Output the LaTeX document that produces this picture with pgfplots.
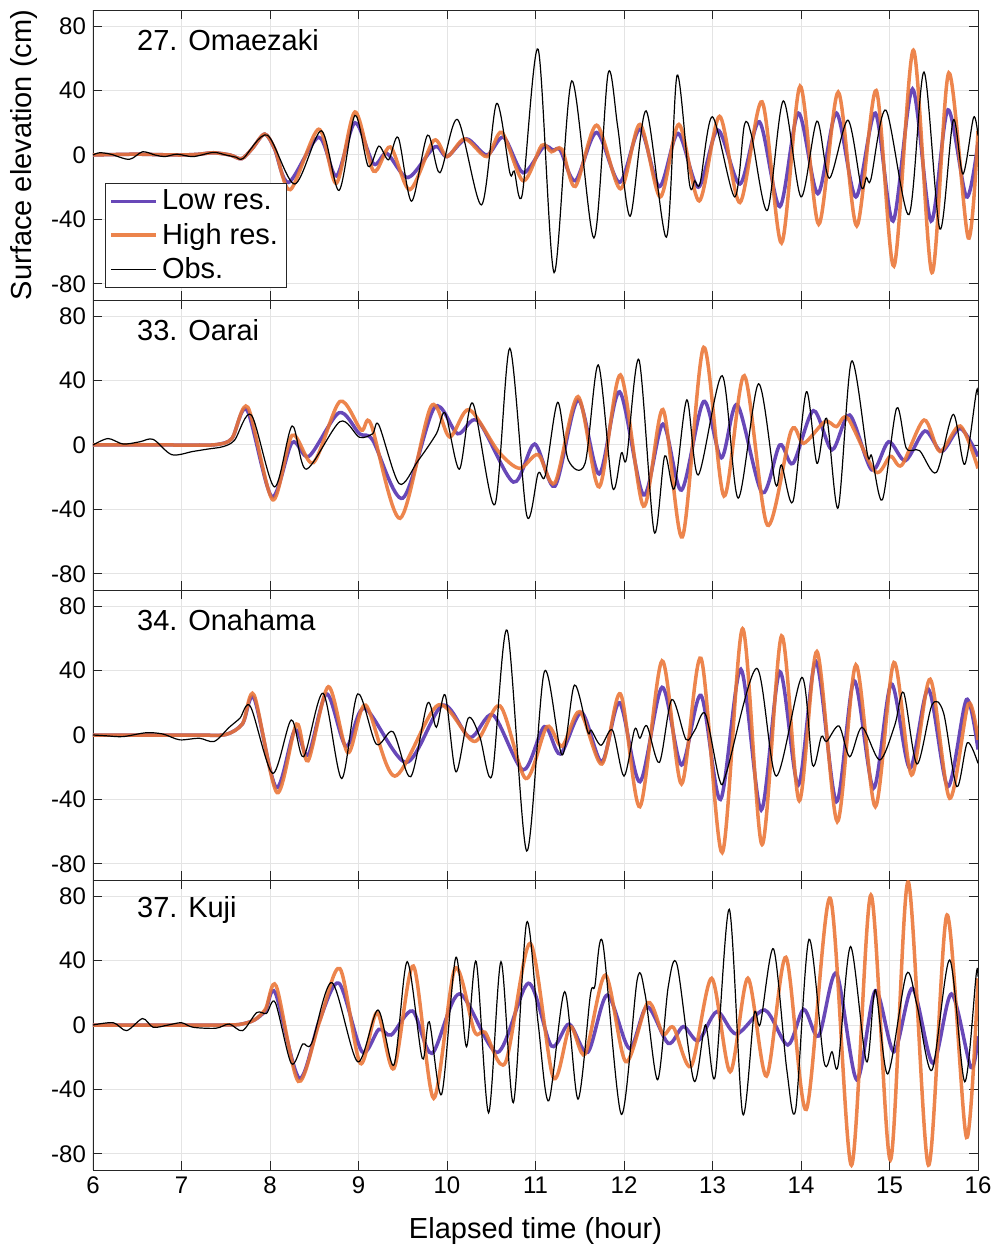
\documentclass[border=0pt]{standalone}
\usepackage{fontspec}
\setmainfont{Liberation Sans}
\usepackage{pgfplots}
\pgfplotsset{compat=1.18}
\definecolor{lowc}{RGB}{104,72,184}
\definecolor{highc}{RGB}{234,116,52}
\definecolor{axc}{RGB}{38,38,38}
\definecolor{gridc}{RGB}{228,228,228}
\pgfplotsset{
  panel/.style={
    scale only axis, width=442.5pt, height=145pt,
    xmin=6, xmax=16, ymin=-90, ymax=90,
    xtick={6,7,8,9,10,11,12,13,14,15,16},
    ytick={-80,-40,0,40,80},
    yticklabels={{-80},{-40},{0},{40},{80}},
    grid=major,
    major grid style={gridc, line width=0.5pt},
    axis line style={axc, line width=0.45pt},
    tick style={axc, line width=0.45pt},
    tick align=inside,
    major tick length=4.5pt,
    xtick pos=both, ytick pos=both,
    ticklabel style={font=\fontsize{12}{14}\selectfont, text=black},
    /pgf/number format/assume math mode=true,
    anchor=north west,
  },
  lowp/.style={lowc, line width=1.75pt, smooth, no marks},
  highp/.style={highc, line width=1.75pt, smooth, no marks, opacity=0.88},
  obsp/.style={black, line width=0.6pt, smooth, no marks},
}
\newcommand{\paneltitle}[1]{\node[anchor=west, font=\fontsize{14.5}{17}\selectfont] at (axis description cs:0.042,0.895) {#1};}
\begin{document}
\begin{tikzpicture}
\useasboundingbox (0,0) rectangle (498pt,-624pt);
% ---------------- Panel 1 ----------------
\begin{axis}[panel, at={(46.5pt,-5pt)}, xticklabels={},
  ylabel={Surface elevation (cm)},
  ylabel style={font=\fontsize{14.5}{17}\selectfont, at={(axis description cs:-0.078,0.5)}, anchor=center, rotate=0},
  legend style={at={(axis description cs:0.0136,0.041)}, anchor=south west, draw=axc, fill=white, line width=0.5pt,
    font=\fontsize{14.5}{17}\selectfont, inner xsep=2pt, inner ysep=1pt, row sep=1.2pt, cells={anchor=west}},
  legend image code/.code={\draw[#1] (0pt,0pt) -- (22.5pt,0pt);},
]
\addplot[lowp] coordinates {(6,0) (6.25,0.3) (6.5,0.5) (6.75,0.2) (7,0) (7.2,0.5) (7.36,1.4) (7.55,0) (7.68,-2.3) (7.8,4) (7.94,13) (8.05,4) (8.21,-17) (8.55,11) (8.75,-13) (8.96,20) (9.17,-5.5) (9.32,1) (9.56,-14) (9.86,5) (10.0,-1) (10.22,10) (10.45,0) (10.64,11) (10.86,-11) (11.09,5) (11.2,3) (11.28,3) (11.45,-16) (11.69,14) (11.95,-17) (12.18,16) (12.40,-19.6) (12.61,13.4) (12.84,-20) (13.06,15.5) (13.31,-18) (13.53,20.6) (13.76,-32) (13.97,26) (14.19,-24) (14.40,26) (14.62,-26) (14.84,26) (15.04,-41) (15.26,41) (15.47,-41) (15.66,28) (15.87,-26) (16.0,8)};
\addlegendentry{Low res.}
\addplot[highp] coordinates {(6,0) (6.25,0.3) (6.5,0.5) (6.75,0.2) (7,0) (7.2,0.5) (7.36,1.4) (7.55,0) (7.68,-2.3) (7.8,4) (7.94,13) (8.06,3) (8.23,-21.5) (8.55,16) (8.75,-17.5) (8.96,26.7) (9.17,-10) (9.36,5) (9.58,-21.5) (9.85,9) (10.0,-1) (10.2,10) (10.45,-1) (10.62,14) (10.86,-16) (11.07,6) (11.18,2) (11.3,3.5) (11.45,-19.5) (11.69,18.5) (11.96,-21) (12.18,19) (12.41,-26) (12.62,19) (12.85,-28.5) (13.08,24) (13.31,-29.5) (13.56,33) (13.78,-54.6) (13.99,42.7) (14.20,-43) (14.42,39) (14.63,-44) (14.85,40) (15.05,-69) (15.27,65) (15.48,-73) (15.67,51) (15.89,-51.5) (16.0,15)};
\addlegendentry{High res.}
\addplot[obsp] coordinates {(6,0) (6.075,1.4) (6.2,0.5) (6.41,-2.7) (6.56,2) (6.7,0) (6.81,-1) (6.95,0.5) (7.13,-1) (7.36,1.6) (7.5,0) (7.62,-1.4) (7.7,-2) (7.97,12.3) (8.28,-18) (8.58,15) (8.78,-22) (8.96,24.6) (9.11,-7) (9.23,5.5) (9.34,-3) (9.45,10.7) (9.6,-28.7) (9.78,12.3) (9.92,-11) (10.12,22) (10.39,-31) (10.56,32) (10.71,-11) (10.76,-10) (10.85,-24.6) (11.03,65.6) (11.21,-73) (11.41,46) (11.66,-51.5) (11.82,50.5) (11.93,17) (12.07,-38) (12.25,27.4) (12.48,-51) (12.6,49.5) (12.74,-18) (12.8,-16) (12.86,-17.5) (13.0,23.7) (13.25,-26) (13.36,18.5) (13.44,12.4) (13.62,-34.4) (13.80,33.6) (14.0,-26) (14.18,21) (14.32,-14.4) (14.53,21.6) (14.68,-19.6) (14.74,-14) (14.79,-15) (14.96,27.8) (15.22,-37) (15.39,51.5) (15.57,-46) (15.72,21.6) (15.83,-11.8) (15.95,23.3) (16.0,12)};
\addlegendentry{Obs.}
\paneltitle{27. Omaezaki}
\end{axis}
% ---------------- Panel 2 ----------------
\begin{axis}[panel, at={(46.5pt,-150pt)}, xticklabels={}]
\addplot[lowp] coordinates {(6,0) (6.3,0) (6.6,0) (6.9,0) (7.2,0) (7.4,0.3) (7.57,4) (7.74,21.7) (8.02,-32) (8.25,1.5) (8.44,-7) (8.78,20) (9.01,7) (9.16,3) (9.50,-33) (9.86,23.4) (10.12,7) (10.35,15) (10.75,-23) (10.99,0.6) (11.22,-25.5) (11.48,28) (11.72,-18) (11.95,33) (12.22,-31) (12.44,13) (12.65,-28) (12.90,27) (13.1,-8) (13.28,25) (13.56,-29.6) (13.76,0) (13.91,-11.4) (14.14,21.3) (14.35,-3) (14.55,18.6) (14.80,-15.5) (14.99,2) (15.18,-9.7) (15.40,8.7) (15.59,-4) (15.80,10.3) (16.0,-7)};
\addplot[highp] coordinates {(6,0) (6.3,0) (6.6,0) (6.9,0) (7.2,0) (7.4,0.3) (7.57,4) (7.75,23.4) (8.03,-34) (8.25,6) (8.49,-11) (8.79,27) (9.03,9.3) (9.14,13) (9.47,-45.5) (9.82,24) (10.03,5) (10.25,22) (10.58,-4) (10.82,-14.5) (11.03,-6) (11.22,-23.4) (11.48,30) (11.72,-26) (11.96,43.5) (12.22,-38) (12.44,22) (12.66,-57) (12.9,60.6) (13.13,-31.7) (13.36,43) (13.62,-49.7) (13.89,9) (14.03,1) (14.27,14.5) (14.4,11.4) (14.53,16.5) (14.84,-16.6) (15.01,-7) (15.14,-12.4) (15.39,15.5) (15.57,-4) (15.80,11.8) (16.0,-14.5)};
\addplot[obsp] coordinates {(6,0) (6.17,4) (6.34,0.6) (6.53,2) (6.68,3.5) (6.89,-6) (7.13,-4) (7.3,-2.5) (7.47,-1) (7.6,3) (7.79,18.6) (8.05,-26) (8.25,11.8) (8.41,-15) (8.79,14.5) (9.01,4.8) (9.16,7) (9.23,12.4) (9.46,-24) (9.67,-10) (9.88,7) (9.98,19.7) (10.14,-15) (10.29,26) (10.54,-37) (10.71,60) (10.9,-43.5) (11.03,-17.6) (11.11,-19) (11.25,26.5) (11.37,-9.3) (11.56,-11.4) (11.71,49.7) (11.87,-26.3) (11.97,-5) (12.03,-8) (12.17,52.8) (12.34,-53.8) (12.46,-6.8) (12.57,-27) (12.71,28) (12.84,-18.6) (13.11,43) (13.29,-33) (13.52,38) (13.71,-24) (13.78,-12.4) (13.91,-35) (14.06,33) (14.18,-11.4) (14.29,16.6) (14.42,-39) (14.57,52) (14.75,-5.6) (14.8,-7) (14.92,-34) (15.08,22.8) (15.19,-2) (15.34,-3.5) (15.53,-17) (15.72,19) (15.85,-12) (15.98,32.5) (16.0,31)};
\paneltitle{33. Oarai}
\end{axis}
% ---------------- Panel 3 ----------------
\begin{axis}[panel, at={(46.5pt,-295pt)}, xticklabels={}]
\addplot[lowp] coordinates {(6,0) (6.3,0) (6.6,0) (6.9,0) (7.2,0) (7.5,0.3) (7.69,7) (7.82,22.8) (8.07,-32.5) (8.28,3) (8.43,-12.4) (8.64,25.5) (8.86,-7) (9.07,16.6) (9.54,-17) (9.95,18.6) (10.26,-1.5) (10.52,12.4) (10.86,-21.7) (11.10,5.2) (11.28,-11.8) (11.52,13.9) (11.75,-16.6) (11.95,20) (12.18,-29) (12.43,29.6) (12.65,-18.6) (12.87,24.6) (13.09,-40) (13.32,40.8) (13.55,-46.6) (13.76,39.3) (13.97,-31) (14.17,45.5) (14.4,-41.4) (14.6,33.7) (14.82,-33) (15.02,31.7) (15.23,-20.7) (15.44,28.4) (15.66,-32) (15.87,22) (16.0,-9)};
\addplot[highp] coordinates {(6,0) (6.3,0) (6.6,0) (6.9,0) (7.2,0) (7.5,0.3) (7.69,7) (7.82,24.8) (8.08,-35.8) (8.3,6.8) (8.43,-16) (8.66,30) (8.88,-11) (9.08,18.6) (9.41,-25.5) (9.9,18.6) (10.31,-4) (10.6,18) (10.89,-27) (11.13,5.2) (11.30,-7) (11.5,14.5) (11.75,-18) (11.96,25.5) (12.18,-44.5) (12.43,46) (12.65,-30.4) (12.87,47.6) (13.11,-73) (13.34,66) (13.56,-68) (13.78,61.5) (13.98,-40.8) (14.18,51.8) (14.41,-53.8) (14.62,43.5) (14.84,-44.5) (15.05,45) (15.25,-24.8) (15.46,34.6) (15.68,-39.3) (15.89,19.3) (16.0,-3)};
\addplot[obsp] coordinates {(6,0) (6.15,-0.5) (6.34,-1) (6.6,1.4) (6.79,0.6) (6.98,-3) (7.2,-2) (7.37,-4) (7.54,4.8) (7.66,10.4) (7.78,17.6) (8.03,-23.8) (8.24,9.3) (8.38,-13.5) (8.60,25.9) (8.81,-27) (8.99,25.5) (9.20,-5.6) (9.39,2) (9.59,-25.9) (9.78,19.7) (9.88,4.8) (9.98,24.8) (10.1,-22.8) (10.24,10.4) (10.37,-1) (10.51,-24.8) (10.68,65) (10.9,-72) (11.1,39.3) (11.3,-12.4) (11.44,31) (11.59,2) (11.63,3) (11.74,-6.4) (11.87,3) (12.0,-25.5) (12.12,3.5) (12.18,-2) (12.26,5.6) (12.4,-17) (12.54,22) (12.7,-2.7) (12.8,3) (12.92,13) (13.08,-28) (13.16,-22.8) (13.5,41.4) (13.72,-25.5) (14.01,35.8) (14.13,-18.6) (14.23,-1) (14.29,-4) (14.43,5.6) (14.55,-13.5) (14.69,4.8) (14.89,-15.5) (15.06,6.2) (15.16,26.3) (15.31,-18) (15.48,18.6) (15.61,13.9) (15.76,-32) (15.88,-4.8) (16.0,-17.6)};
\paneltitle{34. Onahama}
\end{axis}
% ---------------- Panel 4 ----------------
\begin{axis}[panel, at={(46.5pt,-440pt)},
  xticklabels={6,7,8,9,10,11,12,13,14,15,16},
  xlabel={Elapsed time (hour)},
  xlabel style={font=\fontsize{14.5}{17}\selectfont, at={(axis description cs:0.5,-0.21)}, anchor=center},
]
\addplot[lowp] coordinates {(6,0) (6.3,0) (6.6,0) (6.9,0) (7.2,0) (7.45,0) (7.65,0.3) (7.82,3) (7.95,9) (8.06,20) (8.33,-33) (8.56,3) (8.78,25.9) (9.04,-16.6) (9.23,-2.7) (9.37,-6.2) (9.61,8.7) (9.83,-17.6) (10.14,19.3) (10.57,-17) (10.92,25.9) (11.18,-13) (11.38,0.6) (11.59,-17) (11.81,18.6) (12.06,-14.5) (12.26,11.4) (12.5,-11.4) (12.67,-1) (12.84,-9.7) (13.05,8.3) (13.27,-5.6) (13.59,9.3) (13.85,-12.4) (14.03,9.7) (14.2,-6.8) (14.4,32) (14.63,-34) (14.84,21.3) (15.05,-16.6) (15.26,22.8) (15.49,-23.8) (15.7,19.3) (15.92,-26.3) (16.0,-7)};
\addplot[highp] coordinates {(6,0) (6.3,0) (6.6,0) (6.9,0) (7.2,0) (7.45,0) (7.65,0.3) (7.82,3) (7.95,10) (8.07,24.2) (8.32,-35) (8.56,2) (8.79,35) (9.02,-23.8) (9.21,7.7) (9.4,-27) (9.62,36.6) (9.85,-45.5) (10.09,35) (10.31,-4) (10.43,-4.5) (10.66,-23.4) (10.94,50.7) (11.2,-32.5) (11.39,-1) (11.56,-18) (11.79,31) (12.02,-22.8) (12.27,13.9) (12.44,-5.6) (12.56,-1.6) (12.76,-25.5) (12.99,29) (13.2,-29) (13.40,29) (13.61,-31.7) (13.83,42) (14.06,-52.4) (14.33,78.7) (14.57,-87) (14.79,80.7) (15.01,-83.8) (15.21,89) (15.44,-87) (15.65,68.3) (15.87,-69.8) (16.0,29)};
\addplot[obsp] coordinates {(6,0) (6.23,1.4) (6.38,-3.5) (6.56,4) (6.68,-1.4) (6.85,0) (7.0,1.4) (7.13,-1.4) (7.39,-2) (7.54,0.6) (7.69,-3.5) (7.85,7.7) (7.96,7.2) (8.06,13.9) (8.24,-23.8) (8.37,-11.8) (8.47,-11.4) (8.70,26.3) (8.99,-22.8) (9.22,9.3) (9.4,-24.8) (9.55,39.3) (9.72,-20.7) (9.8,2) (9.94,-42.9) (10.1,42) (10.22,-13.5) (10.33,39.3) (10.47,-54.5) (10.61,39.3) (10.75,-48.2) (10.9,63.6) (11.03,1) (11.15,-47) (11.33,20.7) (11.48,-46) (11.62,18.6) (11.67,24) (11.76,51) (11.97,-55.5) (12.15,28.4) (12.24,18.6) (12.38,-34) (12.50,23.8) (12.6,37.3) (12.79,-34.6) (12.92,0) (13.03,-32) (13.19,71.8) (13.34,-54.9) (13.47,6.8) (13.54,0.6) (13.69,47.2) (13.84,-28) (13.94,-52.4) (14.09,53.2) (14.26,-22.8) (14.35,-16.6) (14.42,-24.8) (14.56,48.7) (14.74,-22.8) (14.84,21.7) (14.98,-30.4) (15.19,31.5) (15.31,12.4) (15.48,-28) (15.68,40.4) (15.85,-35.2) (15.98,31.5) (16.0,30)};
\paneltitle{37. Kuji}
\end{axis}
\end{tikzpicture}
\end{document}
